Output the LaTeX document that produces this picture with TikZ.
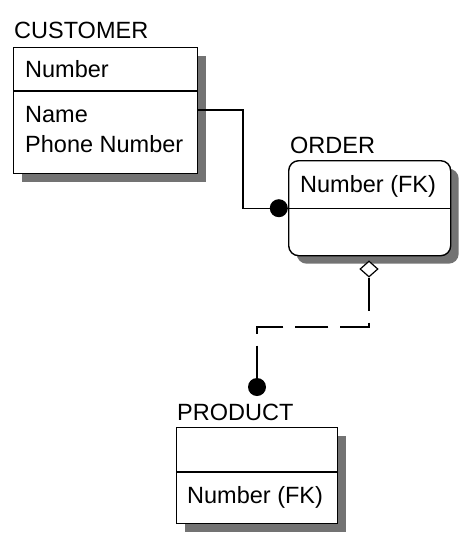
\documentclass[tikz,border=0pt]{standalone}
\usepackage{fontspec}
\setmainfont{Liberation Sans}
\usetikzlibrary{shapes.geometric,shadows}
\begin{document}
\begin{tikzpicture}[x=1pt,y=-1pt,
  ent/.style={draw, line width=1.4pt, fill=white, inner sep=0pt, anchor=north west,
    drop shadow={shadow xshift=8pt, shadow yshift=-8pt, fill=black!55, opacity=1}},
  lbl/.style={anchor=base west, inner sep=0pt, font=\fontsize{23.5}{28}\selectfont},
  conn/.style={line width=1.4pt},
  dashconn/.style={line width=1.4pt, dash pattern=on 33pt off 12pt},
  dotnode/.style={circle, fill=black, draw=none, inner sep=0pt, minimum size=18pt},
  dia/.style={diamond, draw, fill=white, line width=1.2pt, inner sep=0pt, minimum width=18pt, minimum height=16pt}]
\useasboundingbox (0,0) rectangle (475,550);
% CUSTOMER
\node[ent, minimum width=184pt, minimum height=126pt] (cust) at (13,47) {};
\coordinate (cdiv) at (0,91);
\draw[conn] (cust.west |- cdiv) -- (cust.east |- cdiv);
\node[lbl] (custname) at (14,38) {CUSTOMER};
\node[lbl] (cnum) at (25,77) {Number};
\node[lbl] (cnam) at (25,122) {Name};
\node[lbl] (cphone) at (25,152) {Phone Number};
% ORDER
\node[ent, rounded corners=10pt, minimum width=162pt, minimum height=95pt] (ord) at (288,160) {};
\draw[conn] (ord.west) -- (ord.east);
\node[lbl] (ordname) at (290,153) {ORDER};
\node[lbl] (onum) at (300,192) {Number (FK)};
% PRODUCT
\node[ent, minimum width=161pt, minimum height=96pt] (prod) at (176,427) {};
\coordinate (pdiv) at (0,472);
\draw[conn] (prod.west |- pdiv) -- (prod.east |- pdiv);
\node[lbl] (prodname) at (177,420) {PRODUCT};
\node[lbl] (pnum) at (187,503) {Number (FK)};
% connector CUSTOMER - ORDER
\coordinate (k1) at (243,110);
\draw[conn] (k1 -| cust.east) -- (k1) |- (ord.west);
\node[dotnode, anchor=east] (d1) at (ord.west) {};
% connector ORDER - PRODUCT
\node[dia] (dm) at (369,269) {};
\coordinate (k2) at (257,327);
\node[dotnode] (d2) at (257,387) {};
\draw[dashconn] (dm.south) |- (k2) -- (d2.north);
\end{tikzpicture}
\end{document}
